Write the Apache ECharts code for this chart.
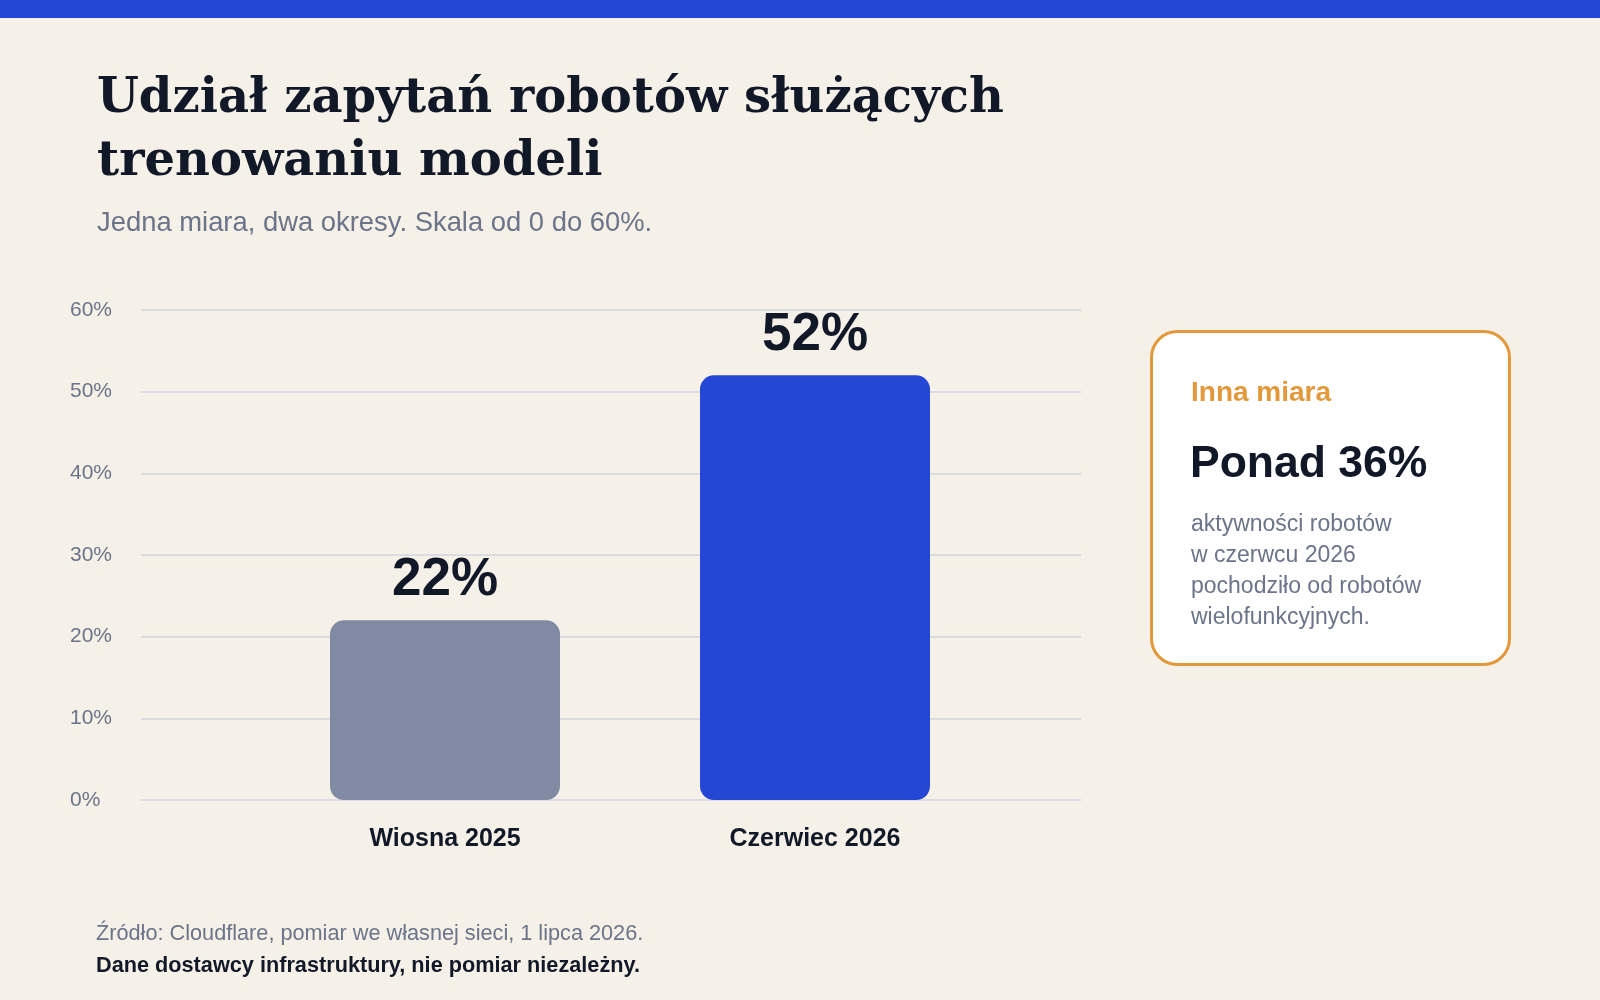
<!DOCTYPE html>
<html>
<head>
<meta charset="utf-8">
<script src="https://cdn.jsdelivr.net/npm/echarts@6/dist/echarts.min.js"></script>
<style>
  html, body { margin: 0; padding: 0; background: #f5f0e8; }
  #chart { width: 1600px; height: 1000px; }
</style>
</head>
<body>
<div id="chart"></div>
<script>
const categories = ["Wiosna 2025", "Czerwiec 2026"]
const shares = [22, 52]
const barColors = ["#808ba3", "#2447d6"]
const yTicks = [0, 10, 20, 30, 40, 50, 60]

const titleText = "Udział zapytań robotów służących\ntrenowaniu modeli"
const subtitleText = "Jedna miara, dwa okresy. Skala od 0 do 60%."
const calloutHead = "Inna miara"
const calloutValue = "Ponad 36%"
const calloutBody = "aktywności robotów\nw czerwcu 2026\npochodziło od robotów\nwielofunkcyjnych."
const sourceText = "Źródło: Cloudflare, pomiar we własnej sieci, 1 lipca 2026."
const noteText = "Dane dostawcy infrastruktury, nie pomiar niezależny."

const sans = "'Liberation Sans', Arial, sans-serif"
const dark = "#111827"
const muted = "#6b7489"

const chart = echarts.init(document.getElementById("chart"))

chart.setOption({
  backgroundColor: "#f5f0e8",
  textStyle: { fontFamily: sans },
  title: {
    text: titleText,
    subtext: subtitleText,
    left: 97,
    top: 68,
    padding: 0,
    itemGap: 12,
    textStyle: {
      fontFamily: "'DejaVu Serif', serif",
      fontWeight: "bold",
      fontSize: 48,
      lineHeight: 63,
      color: dark
    },
    subtextStyle: {
      fontFamily: sans,
      fontSize: 27.4,
      lineHeight: 34,
      color: muted
    }
  },
  grid: [
    { left: 141, right: 519, top: 310, bottom: 200 },
    { left: 260, right: 600, top: 310, bottom: 200 }
  ],
  xAxis: [
    { gridIndex: 0, type: "value", show: false },
    {
      gridIndex: 1,
      type: "category",
      data: categories,
      axisLine: { show: false },
      axisTick: { show: false },
      axisLabel: { margin: 27, fontSize: 25, fontWeight: "bold", color: dark }
    }
  ],
  yAxis: [
    {
      gridIndex: 0,
      type: "value",
      min: yTicks[0],
      max: yTicks[yTicks.length - 1],
      interval: 10,
      axisLine: { show: false },
      axisTick: { show: false },
      axisLabel: {
        formatter: "{value}%",
        align: "left",
        margin: 71,
        fontSize: 21,
        color: muted
      },
      splitLine: { lineStyle: { color: "#d2d6df", width: 1.5 } }
    },
    {
      gridIndex: 1,
      type: "value",
      min: yTicks[0],
      max: yTicks[yTicks.length - 1],
      show: false
    }
  ],
  series: [
    {
      type: "bar",
      xAxisIndex: 1,
      yAxisIndex: 1,
      barWidth: 230,
      data: shares.map((v, i) => ({ value: v, itemStyle: { color: barColors[i] } })),
      itemStyle: { borderRadius: 14 },
      label: {
        show: true,
        position: "top",
        distance: 13,
        formatter: "{c}%",
        fontSize: 53,
        fontWeight: "bold",
        color: dark
      }
    }
  ],
  graphic: [
    { type: "rect", left: 0, top: 0, shape: { width: 1600, height: 18 }, style: { fill: "#2447d6" } },
    {
      type: "rect",
      shape: { x: 1151.5, y: 331.5, width: 358, height: 333, r: 26 },
      style: { fill: "#ffffff", stroke: "#e3993b", lineWidth: 3 }
    },
    {
      type: "text",
      style: { x: 1191, y: 393, text: calloutHead, verticalAlign: "middle", font: "bold 28px " + sans, fill: "#e3993b" }
    },
    {
      type: "text",
      style: { x: 1190, y: 465, text: calloutValue, verticalAlign: "middle", font: "bold 44.5px " + sans, fill: dark }
    },
    {
      type: "text",
      style: { x: 1191, y: 509, text: calloutBody, verticalAlign: "top", lineHeight: 31, font: "23px " + sans, fill: muted }
    },
    {
      type: "text",
      style: { x: 96, y: 934, text: sourceText, verticalAlign: "middle", font: "21.7px " + sans, fill: muted }
    },
    {
      type: "text",
      style: { x: 96, y: 966, text: noteText, verticalAlign: "middle", font: "bold 21.7px " + sans, fill: dark }
    }
  ]
})
</script>
</body>
</html>
